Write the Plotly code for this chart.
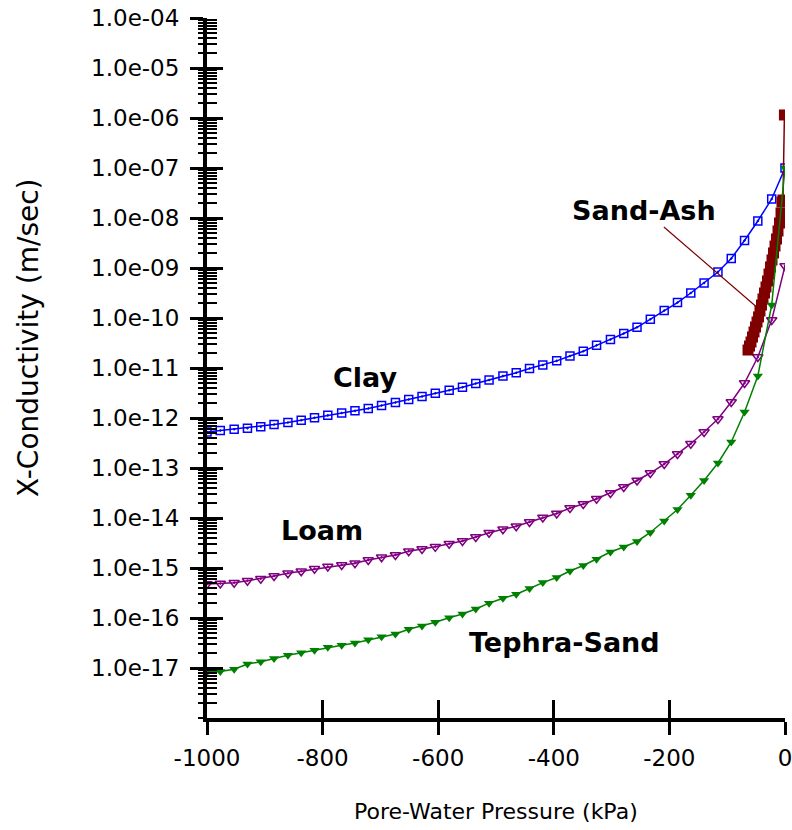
import plotly.graph_objects as go

# Pore-water pressure grid (kPa) shared by the Clay, Loam and Tephra-Sand functions
pressure = [-1000, -977, -953, -930, -907, -884, -860, -837, -814, -791, -767,
            -744, -721, -698, -674, -651, -628, -605, -581, -558, -535, -512,
            -488, -465, -442, -419, -395, -372, -349, -326, -302, -279, -256,
            -233, -209, -186, -163, -140, -116, -93, -70, -47, -23, 0]

# Hydraulic conductivity (m/sec)
clay_k = [5.25e-13, 5.62e-13, 5.94e-13, 6.25e-13, 6.70e-13, 7.41e-13, 8.13e-13,
          8.99e-13, 1.01e-12, 1.13e-12, 1.26e-12, 1.39e-12, 1.55e-12, 1.78e-12,
          2.04e-12, 2.34e-12, 2.69e-12, 3.12e-12, 3.58e-12, 4.11e-12, 4.90e-12,
          5.75e-12, 6.92e-12, 8.05e-12, 9.77e-12, 1.15e-11, 1.39e-11, 1.74e-11,
          2.16e-11, 2.84e-11, 3.72e-11, 4.90e-11, 6.52e-11, 9.42e-11, 1.41e-10,
          2.04e-10, 3.16e-10, 5.01e-10, 8.32e-10, 1.55e-9, 3.55e-9, 8.71e-9,
          2.40e-8, 1.0e-7]

loam_k = [4.79e-16, 4.90e-16, 5.08e-16, 5.55e-16, 6.11e-16, 6.92e-16, 7.83e-16,
          8.59e-16, 9.68e-16, 1.07e-15, 1.15e-15, 1.25e-15, 1.45e-15, 1.64e-15,
          1.82e-15, 2.17e-15, 2.40e-15, 2.65e-15, 3.05e-15, 3.47e-15, 4.17e-15,
          5.08e-15, 5.94e-15, 6.82e-15, 8.32e-15, 1.02e-14, 1.23e-14, 1.58e-14,
          1.91e-14, 2.43e-14, 3.16e-14, 4.17e-14, 5.62e-14, 7.94e-14, 1.20e-13,
          1.91e-13, 3.06e-13, 5.25e-13, 9.55e-13, 2.09e-12, 5.01e-12, 1.66e-11,
          9.12e-11, 1.10e-9]

tephra_k = [8.32e-18, 8.51e-18, 9.42e-18, 1.20e-17, 1.33e-17, 1.55e-17, 1.80e-17,
            2.02e-17, 2.26e-17, 2.61e-17, 2.86e-17, 3.16e-17, 3.66e-17, 4.21e-17,
            4.79e-17, 5.97e-17, 6.92e-17, 8.20e-17, 1.01e-16, 1.20e-16, 1.51e-16,
            1.98e-16, 2.48e-16, 2.98e-16, 3.89e-16, 5.11e-16, 6.46e-16, 8.71e-16,
            1.12e-15, 1.50e-15, 2.09e-15, 2.63e-15, 3.39e-15, 5.13e-15, 8.71e-15,
            1.48e-14, 2.84e-14, 5.62e-14, 1.26e-13, 3.31e-13, 1.32e-12, 6.92e-12,
            1.82e-10, 1.0e-7]

# Sand-Ash is defined only over a narrow suction range close to saturation
sandash_p = [-64.0, -61.4, -58.8, -56.2, -53.6, -51.0, -48.4, -45.8, -43.3,
             -40.7, -38.1, -35.5, -32.9, -30.3, -27.7, -25.1, -22.5, -19.9,
             -17.3, -14.7, -12.1, -9.5, -6.9, -5.2, -3.5, -1.0]
sandash_k = [2.29e-11, 2.75e-11, 3.31e-11, 4.17e-11, 5.25e-11, 6.61e-11,
             8.32e-11, 1.05e-10, 1.38e-10, 1.82e-10, 2.40e-10, 3.16e-10,
             4.17e-10, 5.50e-10, 7.59e-10, 1.05e-9, 1.45e-9, 2.00e-9, 2.75e-9,
             3.80e-9, 5.50e-9, 7.94e-9, 1.26e-8, 2.09e-8, 2.29e-8, 1.15e-6]

# Axis ticks
x_ticks = [-1000, -800, -600, -400, -200, 0]
x_tick_text = ["-1000", "-800", "-600", "-400", "-200", "0"]
y_ticks = [1e-17, 1e-16, 1e-15, 1e-14, 1e-13, 1e-12, 1e-11, 1e-10, 1e-9,
           1e-8, 1e-7, 1e-6, 1e-5, 1e-4]
y_tick_text = ["1.0e-17", "1.0e-16", "1.0e-15", "1.0e-14", "1.0e-13",
               "1.0e-12", "1.0e-11", "1.0e-10", "1.0e-09", "1.0e-08",
               "1.0e-07", "1.0e-06", "1.0e-05", "1.0e-04"]

X_RANGE = [-1000, 0]
Y_RANGE = [-18, -4]   # log10 of m/sec

BLUE, PURPLE, GREEN, MAROON = "#0000FF", "#800080", "#008000", "#800000"
TICK_FONT = dict(family="DejaVu Sans", size=23, color="#000000")
LABEL_FONT = dict(family="DejaVu Sans", size=27, color="#000000", weight="bold")

fig = go.Figure()

fig.add_trace(go.Scatter(
    x=pressure, y=clay_k, mode="lines+markers", name="Clay",
    line=dict(color=BLUE, width=1.5),
    marker=dict(symbol="square-open-dot", size=8, color=BLUE, line=dict(width=1.5)),
))
fig.add_trace(go.Scatter(
    x=pressure, y=loam_k, mode="lines+markers", name="Loam",
    line=dict(color=PURPLE, width=1.5),
    marker=dict(symbol="triangle-down-open-dot", size=9, color=PURPLE, line=dict(width=1.5)),
))
# Tephra-Sand sits on the overlay axes that carry the inward-facing ticks
fig.add_trace(go.Scatter(
    x=pressure, y=tephra_k, mode="lines+markers", name="Tephra-Sand",
    xaxis="x2", yaxis="y2",
    line=dict(color=GREEN, width=1.5),
    marker=dict(symbol="triangle-down", size=9, color=GREEN),
))
fig.add_trace(go.Scatter(
    x=sandash_p, y=sandash_k, mode="lines+markers", name="Sand-Ash",
    line=dict(color=MAROON, width=1.5),
    marker=dict(symbol="square", size=11, color=MAROON),
))

common_x = dict(range=X_RANGE, tickmode="array", tickvals=x_ticks, automargin=False,
                showgrid=False, zeroline=False, tickwidth=3, tickcolor="black")
common_y = dict(type="log", range=Y_RANGE, tickmode="array", tickvals=y_ticks,
                automargin=False,
                showgrid=False, zeroline=False, tickwidth=3, tickcolor="black")

fig.update_layout(
    width=792, height=830,
    margin=dict(l=207, r=7, t=18, b=112),
    paper_bgcolor="white", plot_bgcolor="white",
    showlegend=False,
    xaxis=dict(**common_x, ticktext=x_tick_text, ticks="outside", ticklen=13,
               showline=True, linecolor="black", linewidth=4,
               tickfont=TICK_FONT, ticklabelstandoff=3, ticklabeloverflow="allow"),
    yaxis=dict(**common_y, ticktext=y_tick_text, ticks="outside", ticklen=13,
               showline=True, linecolor="black", linewidth=4,
               tickfont=TICK_FONT, ticklabelstandoff=6, ticklabeloverflow="allow",
               minor=dict(ticks="outside", ticklen=5, tickwidth=2,
                          tickcolor="black", dtick="D1", showgrid=False)),
    xaxis2=dict(**common_x, overlaying="x", anchor="y2", side="bottom",
                ticks="inside", ticklen=18, showticklabels=False, showline=False),
    yaxis2=dict(**common_y, overlaying="y", anchor="x2", side="left",
                ticks="inside", ticklen=16, showticklabels=False, showline=False,
                minor=dict(ticks="inside", ticklen=10, tickwidth=2,
                           tickcolor="black", dtick="D1", showgrid=False)),
)

# Curve labels
fig.add_annotation(x=-727, y=-11.18, text="Clay", showarrow=False, font=LABEL_FONT)
fig.add_annotation(x=-801, y=-14.24, text="Loam", showarrow=False, font=LABEL_FONT)
fig.add_annotation(x=-382, y=-16.48, text="Tephra-Sand", showarrow=False, font=LABEL_FONT)
fig.add_annotation(x=-43, y=-9.84, text="Sand-Ash", font=LABEL_FONT,
                   showarrow=True, arrowhead=0, arrowwidth=1.2, arrowcolor=MAROON,
                   ax=-116, ay=-100, standoff=0)

# Axis titles
fig.add_annotation(xref="paper", yref="paper", x=0.5, y=-0.134,
                   xanchor="center", yanchor="middle",
                   text="Pore-Water Pressure (kPa)", showarrow=False,
                   font=dict(family="DejaVu Sans", size=22, color="#000000"))
fig.add_annotation(xref="paper", yref="paper", x=-0.31, y=0.544,
                   xanchor="center", yanchor="middle",
                   text="X-Conductivity (m/sec)", showarrow=False, textangle=-90,
                   font=dict(family="DejaVu Sans", size=28, color="#000000"))

fig.write_html("out.html")
